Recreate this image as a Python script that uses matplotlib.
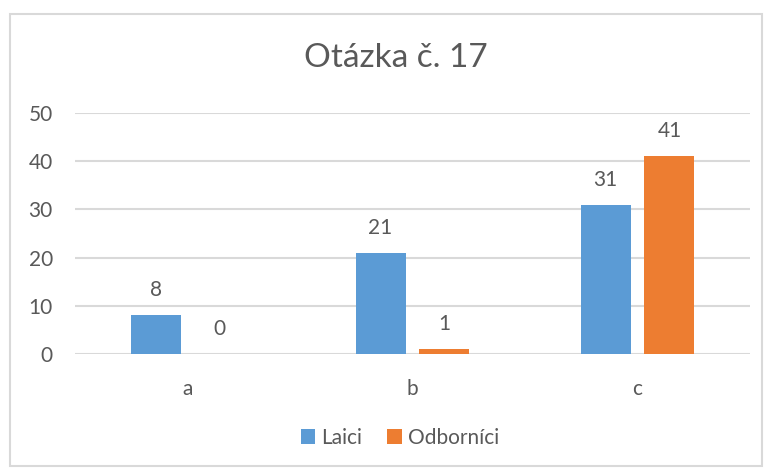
import matplotlib
matplotlib.use("Agg")
import matplotlib.pyplot as plt
from matplotlib.patches import Rectangle
import numpy as np

categories = ["a", "b", "c"]
laici = [8, 21, 31]
odbornici = [0, 1, 41]
series_names = ["Laici", "Odborníci"]
title = "Otázka č. 17"
yticks = [0, 10, 20, 30, 40, 50]

plt.rcParams['font.family'] = ['Lato', 'DejaVu Sans']
txt = "#595959"
grid = "#d9d9d9"
c1 = "#5b9bd5"
c2 = "#ed7d31"

W, H = 770, 471
fig = plt.figure(figsize=(W/100, H/100), dpi=100)
fig.patches.append(Rectangle((10/W, 1-466/H), 752/W, 452/H, transform=fig.transFigure,
                             fill=False, edgecolor=grid, linewidth=1.5))
ax = fig.add_axes([75/W, 1-354/H, 675/W, 241/H])

x = np.arange(len(categories))
bw = 0.222
off = 0.142
b1 = ax.bar(x - off, laici, bw, color=c1, label=series_names[0], zorder=3)
b2 = ax.bar(x + off, odbornici, bw, color=c2, label=series_names[1], zorder=3)

for bars, vals in ((b1, laici), (b2, odbornici)):
    for r, v in zip(bars, vals):
        ax.annotate(str(v), (r.get_x() + r.get_width()/2, v), xytext=(0, 18),
                    textcoords="offset points", ha="center", va="center",
                    fontsize=15, color=txt)

ax.set_xlim(-0.5, 2.5)
ax.set_ylim(0, 50)
ax.set_yticks(yticks)
ax.set_xticks(x)
ax.set_xticklabels(categories)
ax.tick_params(axis='both', length=0, labelsize=15, labelcolor=txt)
ax.tick_params(axis='y', pad=16)
ax.tick_params(axis='x', pad=18)
ax.grid(axis='y', color=grid, linewidth=1.5, zorder=0)
for s in ax.spines.values():
    s.set_visible(False)

fig.text(396/W, 1-58/H, title, ha="center", va="center", fontsize=24, color=txt)
fig.legend(handles=[b1, b2], loc="center", bbox_to_anchor=(400/W, 1-438/H), ncol=2,
           frameon=False, fontsize=15, labelcolor=txt, handlelength=0.7, handleheight=0.7,
           handletextpad=0.3, columnspacing=1.2)

fig.savefig("out.png", dpi=100)
